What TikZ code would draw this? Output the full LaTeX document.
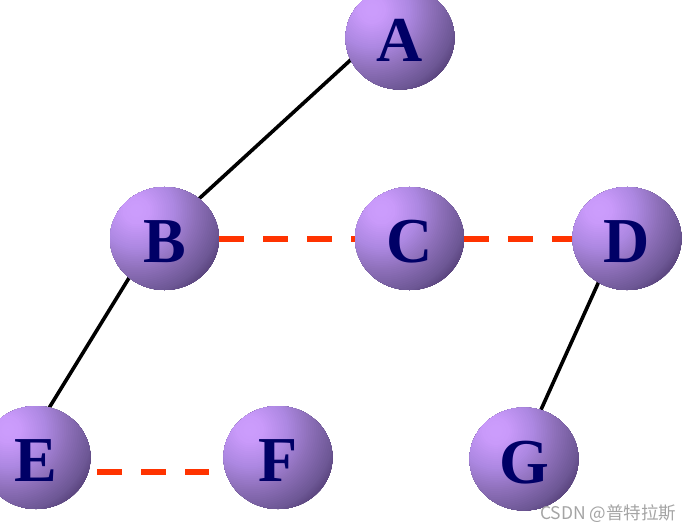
\documentclass[tikz,border=0pt]{standalone}
\usepackage{fontspec}
\setmainfont{Liberation Serif}
\newfontfamily\cjkfont{Noto Sans CJK SC}
\usetikzlibrary{shapes.geometric,calc}
\definecolor{navyletter}{HTML}{000066}
\definecolor{edgered}{HTML}{FF3300}
\definecolor{wmgray}{HTML}{A4A4A4}
\definecolor{pzero}{HTML}{CC9DFD}
\definecolor{pone}{HTML}{C99AFA}
\definecolor{ptwo}{HTML}{AD88E2}
\definecolor{pthree}{HTML}{8E70BA}
\definecolor{pfour}{HTML}{6E5896}
\definecolor{pfive}{HTML}{5C4680}
\pgfdeclarelayer{bg}
\pgfsetlayers{bg,main}
\tikzset{
  vertex/.style={ellipse, minimum width=109pt, minimum height=103pt, inner sep=0pt,
    path picture={
      \coordinate (cen) at ($(path picture bounding box.center)+(-28pt,28pt)$);
      \foreach \ra/\rb/\ca/\cb in {93/100/pfive/pfive, 84/93/pfour/pfive, 60/84/pthree/pfour, 38/60/ptwo/pthree, 14/38/pone/ptwo, 0/14/pzero/pone} {
        \foreach \k in {0,...,11} {
          \pgfmathsetmacro\rr{\rb-(\rb-\ra)*\k/12}
          \pgfmathsetmacro\pp{100*(\rr-\ra)/(\rb-\ra)}
          \fill[color=\cb!\pp!\ca] (cen) circle (\rr pt);
        }
      }
    },
    text=navyletter,
    font=\bfseries\fontsize{64}{64}\selectfont, text height=48pt, text depth=0pt},
  tree/.style={line width=3.6pt, black, shorten <=-3pt, shorten >=-3pt},
  thread/.style={line width=6pt, edgered, dash pattern=on 25pt off 19pt},
  wm/.style={text=wmgray, font=\cjkfont\fontsize{17.5}{18}\selectfont, inner sep=0pt}
}
\begin{document}
\begin{tikzpicture}[x=1pt,y=-1pt]
\clip (0,0) rectangle (691,532);
\node[vertex] (A) at (400,38) {A};
\node[vertex] (B) at (164.5,238.5) {B};
\node[vertex] (C) at (409.5,238.5) {C};
\node[vertex] (D) at (627,238.5) {D};
\node[vertex] (E) at (36,457.5) {E};
\node[vertex] (F) at (278,457.5) {F};
\node[vertex] (G) at (524,459) {G};
\coordinate (ef1) at (97,472);
\coordinate (ef2) at (209,472);
\begin{pgfonlayer}{bg}
\draw[tree] (B.49) -- (A.204);
\draw[tree] (B.228) -- (E.75);
\draw[tree] (D.237) -- (G.71);
\end{pgfonlayer}
\draw[thread] (B.east) -- (C.west);
\draw[thread] (C.east) -- (D.west);
\draw[thread] (ef1) -- (ef2);
\node[wm, anchor=west] (wm) at (540,513.5) {CSDN @普特拉斯};
\end{tikzpicture}
\end{document}
